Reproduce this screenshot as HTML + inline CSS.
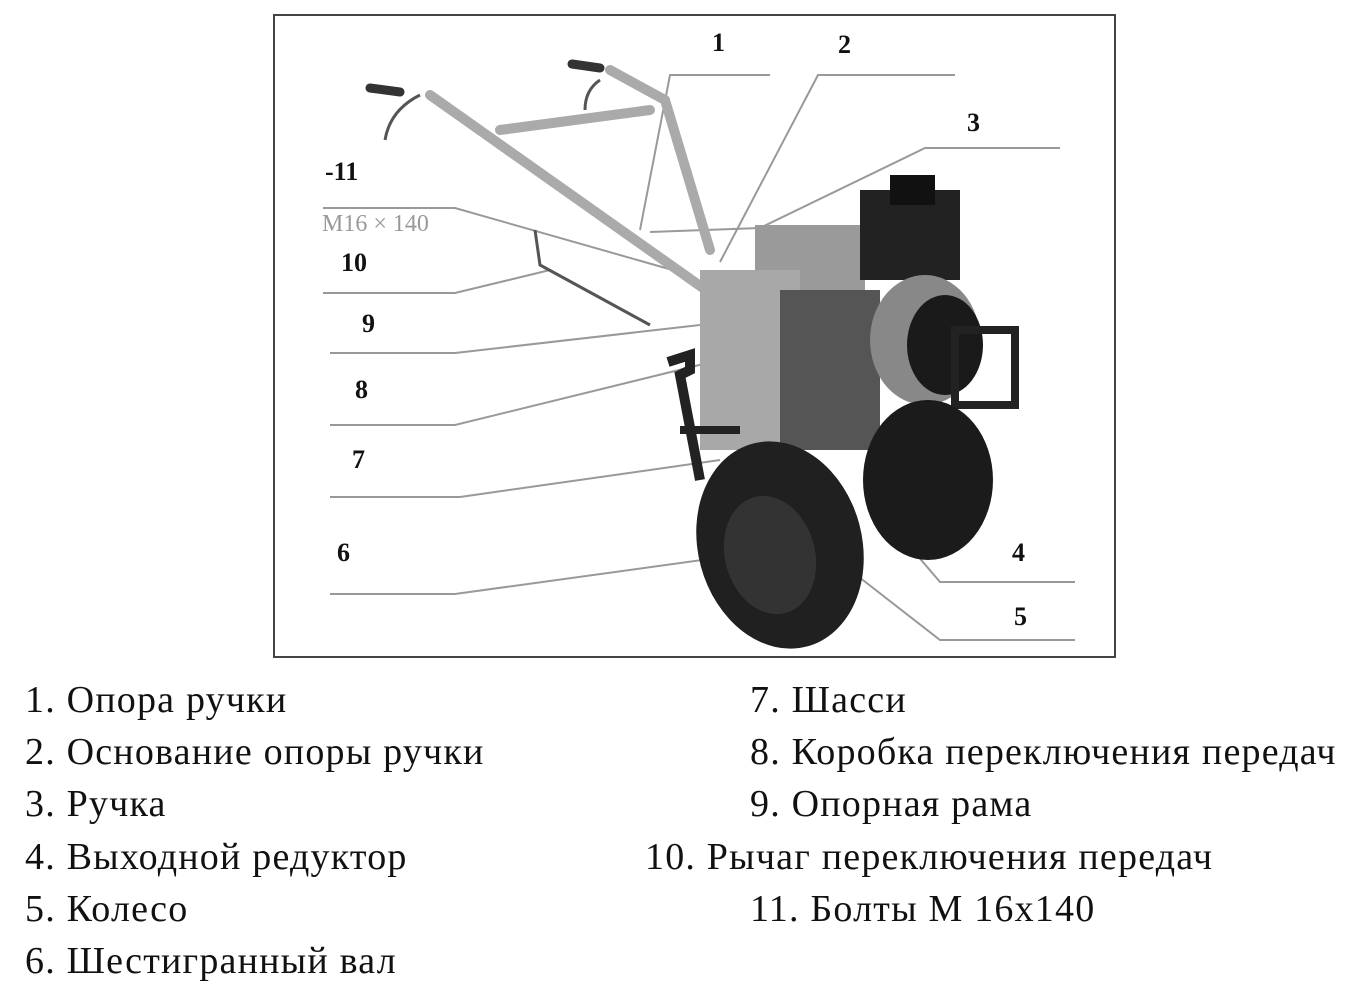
<!DOCTYPE html>
<html><head><meta charset="utf-8"><style>
html,body{margin:0;padding:0;background:#fff;width:1353px;height:989px;overflow:hidden}
.t{position:absolute;font-family:"Liberation Serif",serif;font-size:38px;letter-spacing:1.2px;color:#111;white-space:nowrap;line-height:1}
.n{position:absolute;font-family:"Liberation Serif",serif;font-size:26px;font-weight:bold;color:#111;line-height:1}
svg{position:absolute;left:0;top:0}
</style></head><body>
<svg width="1353" height="989" viewBox="0 0 1353 989">
<rect x="274" y="15" width="841" height="642" fill="#fff" stroke="#444" stroke-width="2"/>
<g stroke="#999" stroke-width="2" fill="none">
<polyline points="770,75 670,75 640,230"/>
<polyline points="955,75 818,75 720,262"/>
<polyline points="1060,148 925,148 760,228 650,232"/>
<polyline points="323,208 455,208 690,275"/>
<polyline points="323,293 455,293 550,270"/>
<polyline points="330,353 455,353 700,325"/>
<polyline points="330,425 455,425 740,355"/>
<polyline points="330,497 460,497 720,460"/>
<polyline points="330,594 455,594 760,552"/>
<polyline points="1075,582 940,582 870,500"/>
<polyline points="1075,640 940,640 850,570"/>
</g>
<g stroke="#aaa" stroke-width="10" fill="none" stroke-linecap="round">
<line x1="430" y1="95" x2="720" y2="300"/>
<line x1="500" y1="130" x2="650" y2="110"/>
<line x1="610" y1="70" x2="665" y2="100"/>
<line x1="665" y1="100" x2="710" y2="250"/>
</g>
<g stroke="#333" stroke-width="9" stroke-linecap="round">
<line x1="370" y1="88" x2="400" y2="92"/>
<line x1="572" y1="64" x2="600" y2="68"/>
</g>
<g stroke="#555" stroke-width="3" fill="none">
<path d="M420,95 Q390,110 385,140"/><path d="M600,80 Q585,90 585,110"/>
<path d="M535,230 L540,265 L650,325"/>
</g>
<rect x="755" y="225" width="110" height="85" fill="#9a9a9a"/>
<rect x="860" y="190" width="100" height="90" fill="#222"/>
<rect x="890" y="175" width="45" height="30" fill="#111"/>
<rect x="700" y="270" width="100" height="180" fill="#a8a8a8"/>
<rect x="780" y="290" width="100" height="160" fill="#555"/>
<ellipse cx="925" cy="340" rx="55" ry="65" fill="#888"/>
<ellipse cx="945" cy="345" rx="38" ry="50" fill="#1a1a1a"/>
<rect x="955" y="330" width="60" height="75" fill="none" stroke="#222" stroke-width="8"/>
<path d="M668,362 L690,355 L690,370 L680,375 L700,480" stroke="#222" stroke-width="10" fill="none"/>
<line x1="680" y1="430" x2="740" y2="430" stroke="#222" stroke-width="8"/>
<ellipse cx="928" cy="480" rx="65" ry="80" fill="#1b1b1b"/>
<ellipse cx="780" cy="545" rx="82" ry="105" fill="#202020" transform="rotate(-15 780 545)"/>
<ellipse cx="770" cy="555" rx="45" ry="60" fill="#333" transform="rotate(-15 770 555)"/>
</svg>
<div class="n" style="left:712px;top:30px">1</div>
<div class="n" style="left:838px;top:32px">2</div>
<div class="n" style="left:967px;top:110px">3</div>
<div class="n" style="left:1012px;top:540px">4</div>
<div class="n" style="left:1014px;top:604px">5</div>
<div class="n" style="left:337px;top:540px">6</div>
<div class="n" style="left:352px;top:447px">7</div>
<div class="n" style="left:355px;top:377px">8</div>
<div class="n" style="left:362px;top:311px">9</div>
<div class="n" style="left:341px;top:250px">10</div>
<div class="n" style="left:325px;top:159px">-11</div>
<div class="n" style="left:322px;top:212px;font-size:24px;font-weight:normal;color:#999">M16 × 140</div>

<div class="t" style="left:25px;top:681px">1. Опора ручки</div>
<div class="t" style="left:25px;top:733px">2. Основание опоры ручки</div>
<div class="t" style="left:25px;top:785px">3. Ручка</div>
<div class="t" style="left:25px;top:838px">4. Выходной редуктор</div>
<div class="t" style="left:25px;top:890px">5. Колесо</div>
<div class="t" style="left:25px;top:942px">6. Шестигранный вал</div>
<div class="t" style="left:750px;top:681px">7. Шасси</div>
<div class="t" style="left:750px;top:733px">8. Коробка переключения передач</div>
<div class="t" style="left:750px;top:785px">9. Опорная рама</div>
<div class="t" style="left:645px;top:838px">10. Рычаг переключения передач</div>
<div class="t" style="left:750px;top:890px">11. Болты М 16х140</div>
</body></html>
